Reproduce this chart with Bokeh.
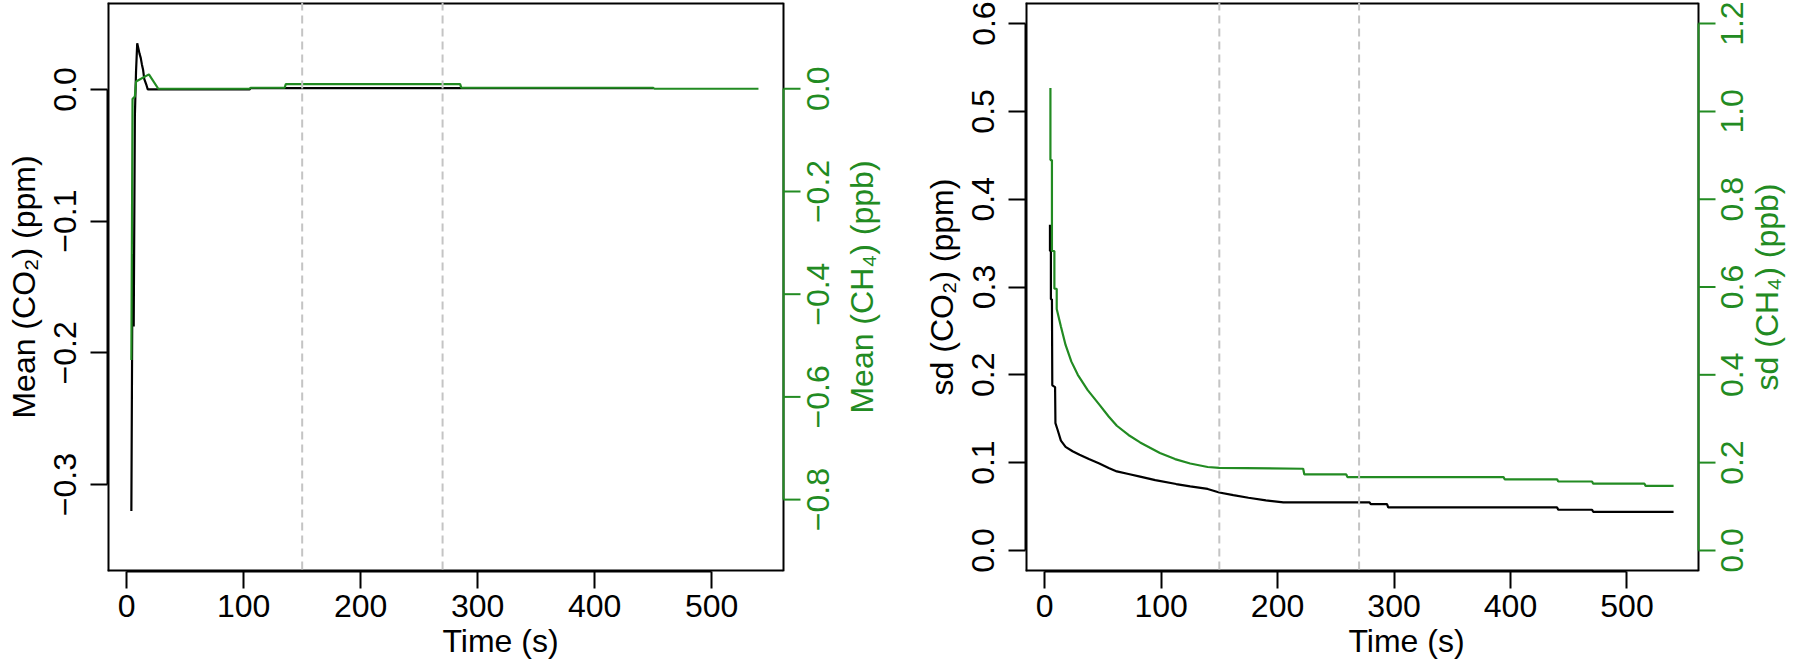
import math
from bokeh.plotting import figure
from bokeh.models import Range1d, LinearAxis, FixedTicker, Span, CustomJSTickFormatter
from bokeh.core.properties import value
from bokeh.layouts import row
from bokeh.embed import file_html
from bokeh.resources import INLINE

GREEN = "#228B22"
FONT = "Liberation Sans"
FS = "32px"

# ---------------- data ----------------
# Left panel: running mean of the differences
t_mean_co2 = [4, 5, 6, 7, 8, 9, 10, 11, 12, 13, 14, 15, 17, 18, 105, 106, 450]
mean_co2 = [-0.320, -0.125, -0.180, -0.020, 0.014, 0.035, 0.031, 0.027, 0.024,
            0.019, 0.015, 0.008, 0.003, 0.0, 0.0, 0.001, 0.001]

t_mean_ch4 = [4, 5, 7, 8, 19, 27, 105, 106, 135, 136, 285, 286, 450, 451, 540]
mean_ch4 = [-0.528, -0.020, -0.015, 0.014, 0.028, 0.0, 0.0, 0.002, 0.002,
            0.009, 0.009, 0.002, 0.002, 0.0, 0.0]

# Right panel: standard deviation
t_sd_co2 = [4.6, 4.6, 5.4, 5.4, 6.3, 6.6, 9.0, 9.3, 11, 14, 18, 24, 30, 38, 47, 55,
            62, 72, 82, 95, 113, 125, 140, 150, 162, 175, 190, 205, 279, 280, 294,
            295, 440, 441, 470, 471, 540]
sd_co2 = [0.371, 0.341, 0.341, 0.286, 0.286, 0.188, 0.186, 0.145, 0.138, 0.125,
          0.118, 0.113, 0.109, 0.104, 0.099, 0.094, 0.090, 0.087, 0.084, 0.080,
          0.0756, 0.073, 0.070, 0.066, 0.063, 0.060, 0.057, 0.0547, 0.0547,
          0.0528, 0.0528, 0.049, 0.049, 0.0463, 0.0463, 0.044, 0.044]

t_sd_ch4 = [5.0, 5.0, 6.3, 6.3, 8.4, 8.4, 10.4, 10.4, 14, 18, 23, 28.5, 37, 47,
            55, 62, 72, 82, 99, 112, 125, 140, 150, 222, 223, 259, 260, 394,
            395, 440, 441, 470, 471, 515, 516, 540]
sd_ch4 = [1.053, 0.889, 0.889, 0.682, 0.682, 0.596, 0.596, 0.550, 0.510, 0.468,
          0.430, 0.400, 0.365, 0.332, 0.305, 0.284, 0.263, 0.246, 0.222, 0.208,
          0.198, 0.190, 0.188, 0.186, 0.173, 0.173, 0.167, 0.167, 0.162, 0.162,
          0.157, 0.157, 0.152, 0.152, 0.147, 0.147]

time_ticks = [0, 100, 200, 300, 400, 500]
mean_co2_ticks = [-0.3, -0.2, -0.1, 0.0]
mean_ch4_ticks = [-0.8, -0.6, -0.4, -0.2, 0.0]
sd_co2_ticks = [0.0, 0.1, 0.2, 0.3, 0.4, 0.5, 0.6]
sd_ch4_ticks = [0.0, 0.2, 0.4, 0.6, 0.8, 1.0, 1.2]
window_marks = [150, 270]

x_lim = (-16.4, 561.4)

fmt_code = "return (tick < 0 ? '\u2212' : '') + Math.abs(tick).toFixed(1);"


def fmt(v):
    return ("\u2212" if v < 0 else "") + "%.1f" % abs(v)


def base_axis(ax, ticks, bounds, color="black"):
    ax.ticker = FixedTicker(ticks=ticks)
    ax.bounds = bounds
    ax.axis_line_color = color
    ax.axis_line_width = 2
    ax.major_tick_line_color = color
    ax.major_tick_line_width = 2
    ax.major_tick_out = 17
    ax.major_tick_in = 0
    ax.minor_tick_line_color = None
    ax.major_label_text_color = color
    ax.major_label_text_font = FONT
    ax.major_label_text_font_size = FS
    ax.axis_label_text_color = color
    ax.axis_label_text_font = FONT
    ax.axis_label_text_font_size = FS
    ax.axis_label_text_font_style = "normal"


def make_panel(bl, box_w, r_area, y_lim, y2_lim, tx1, y1, tx2, y2, t1, t2,
               y_title, y2_title, lab_off, title_off):
    # the frame also covers the right margin, so that the green right-hand
    # scale (read bottom-to-top as in the original) can be drawn there
    upp = (x_lim[1] - x_lim[0]) / box_w
    x_end = x_lim[1] + upp * r_area
    p = figure(frame_width=box_w + r_area, frame_height=569, output_backend="svg",
               toolbar_location=None, x_range=Range1d(x_lim[0], x_end),
               y_range=Range1d(*y_lim), x_axis_location=None,
               y_axis_location=None, min_border_left=bl, min_border_right=0,
               min_border_top=2, min_border_bottom=0)
    p.extra_y_ranges = {"ch4": Range1d(*y2_lim)}
    p.grid.visible = False
    p.outline_line_color = None
    p.background_fill_color = "white"
    p.border_fill_color = "white"

    xa = LinearAxis()
    base_axis(xa, time_ticks, (time_ticks[0], time_ticks[-1]))
    xa.axis_label = "Time (s)"
    xa.major_label_standoff = 6
    xa.axis_label_standoff = 3
    p.add_layout(xa, "below")

    ya = LinearAxis()
    base_axis(ya, t1, (min(t1), max(t1)))
    ya.formatter = CustomJSTickFormatter(code=fmt_code)
    ya.major_label_orientation = "parallel"
    ya.major_label_standoff = 14
    ya.axis_label = y_title
    ya.axis_label_standoff = 10
    p.add_layout(ya, "left")

    for loc in window_marks:
        p.add_layout(Span(location=loc, dimension="height", line_color="#C4C4C4",
                          line_dash="8 5", line_width=2))

    # plot box (top, left, bottom lie on the frame edge, so twice as wide)
    p.segment(x0=[x_lim[0], x_lim[0], x_lim[0], x_lim[1]],
              y0=[y_lim[1], y_lim[0], y_lim[0], y_lim[0]],
              x1=[x_lim[1], x_lim[0], x_lim[1], x_lim[1]],
              y1=[y_lim[1], y_lim[1], y_lim[0], y_lim[1]],
              line_color="black", line_width=[4, 4, 4, 2])

    p.line(tx1, y1, line_color="black", line_width=2.2)
    p.line(tx2, y2, line_color=GREEN, line_width=2.2, y_range_name="ch4")

    # green right-hand scale
    p.segment(x0=[x_lim[1]], y0=[min(t2)], x1=[x_lim[1]], y1=[max(t2)],
              line_color=GREEN, line_width=2, y_range_name="ch4")
    p.segment(x0=[x_lim[1]] * len(t2), y0=t2, x1=[x_lim[1] + 17 * upp] * len(t2), y1=t2,
              line_color=GREEN, line_width=2, y_range_name="ch4")
    p.text(x=[x_lim[1] + lab_off * upp] * len(t2), y=t2, text=[fmt(v) for v in t2],
           angle=math.pi / 2, text_align="center", text_baseline="middle",
           text_color=GREEN, text_font=value(FONT), text_font_size=value(FS),
           y_range_name="ch4")
    p.text(x=[x_lim[1] + title_off * upp], y=[(y2_lim[0] + y2_lim[1]) / 2], text=[y2_title],
           angle=math.pi / 2, text_align="center", text_baseline="middle",
           text_color=GREEN, text_font=value(FONT), text_font_size=value(FS),
           y_range_name="ch4")
    return p


p1 = make_panel(107, 676, 110, (-0.366, 0.066), (-0.94, 0.168),
                t_mean_co2, mean_co2, t_mean_ch4, mean_ch4,
                mean_co2_ticks, mean_ch4_ticks,
                "Mean (CO\u2082) (ppm)", "Mean (CH\u2084) (ppb)", 34, 78)
p2 = make_panel(132, 673, 89, (-0.024, 0.624), (-0.048, 1.248),
                t_sd_co2, sd_co2, t_sd_ch4, sd_ch4,
                sd_co2_ticks, sd_ch4_ticks,
                "sd (CO\u2082) (ppm)", "sd (CH\u2084) (ppb)", 33, 68)

layout = row(p1, p2)
open("out.html", "w").write(file_html(layout, INLINE))
